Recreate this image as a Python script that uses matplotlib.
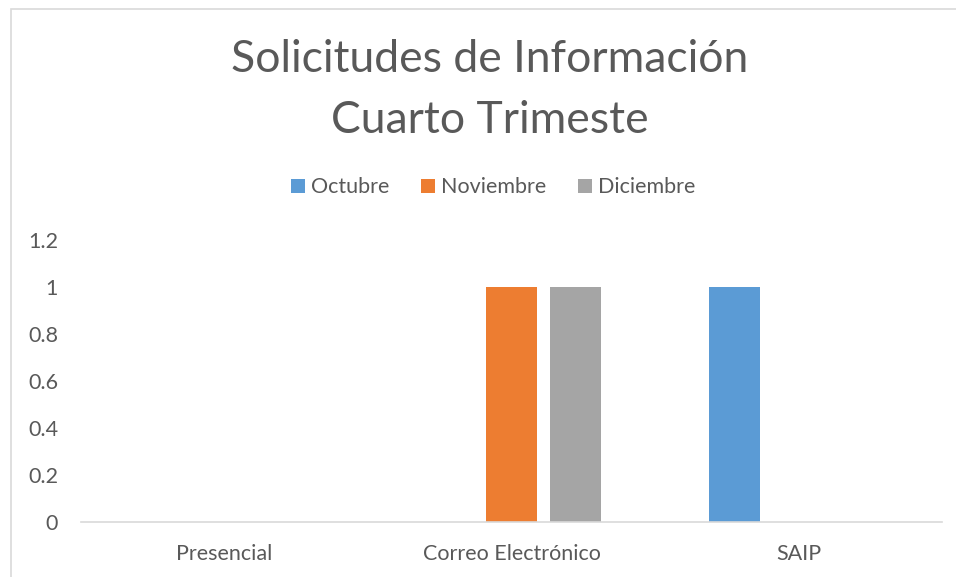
import numpy as np
import matplotlib.pyplot as plt
from matplotlib.patches import Rectangle

plt.rcParams['font.family'] = ['Lato', 'DejaVu Sans']

categories = ['Presencial', 'Correo Electrónico', 'SAIP']
series_names = ['Octubre', 'Noviembre', 'Diciembre']
octubre = [0, 0, 1]
noviembre = [0, 1, 0]
diciembre = [0, 1, 0]
colors = ['#5B9BD5', '#ED7D31', '#A5A5A5']
yticks = [0, 0.2, 0.4, 0.6, 0.8, 1, 1.2]
ytick_labels = ['0', '0.2', '0.4', '0.6', '0.8', '1', '1.2']

text_color = '#595959'

fig = plt.figure(figsize=(9.56, 5.77), dpi=100)
ax = fig.add_axes([81/956, 1 - 522/577, (942 - 81)/956, (522 - 240)/577])

x = np.arange(len(categories))
width = 0.178
step = 0.223
for i, (vals, name, c) in enumerate(zip([octubre, noviembre, diciembre], series_names, colors)):
    ax.bar(x + (i - 1) * step, vals, width, color=c, label=name)

ax.set_xlim(-0.5, len(categories) - 0.5)
ax.set_ylim(0, 1.2)
ax.set_yticks(yticks)
ax.set_yticklabels(ytick_labels)
ax.set_xticks(x)
ax.set_xticklabels(categories)
ax.tick_params(axis='both', length=0, labelsize=15.5, colors=text_color)
ax.tick_params(axis='y', pad=16.5)
ax.tick_params(axis='x', pad=16)
for s in ['top', 'right', 'left']:
    ax.spines[s].set_visible(False)
ax.spines['bottom'].set_color('#D9D9D9')
ax.spines['bottom'].set_linewidth(1.2)

fig.text(0.512, 1 - 90/577, 'Solicitudes de Información\nCuarto Trimeste',
         ha='center', va='center', fontsize=32, color=text_color, linespacing=1.6)

leg = fig.legend(loc='center', bbox_to_anchor=(0.516, 1 - 187.5/577), ncol=3,
                 frameon=False, fontsize=15.5, handlelength=0.65, handleheight=0.65,
                 handletextpad=0.25, columnspacing=1.5)
for t in leg.get_texts():
    t.set_color(text_color)

# chart border (extends past right/bottom edge)
fig.patches.append(Rectangle((11/956, -0.1), 1.2, 1 - 8.5/577 + 0.1,
                             transform=fig.transFigure, fill=False,
                             edgecolor='#D9D9D9', linewidth=1.2))

fig.savefig('out.png', dpi=100, facecolor='white')
